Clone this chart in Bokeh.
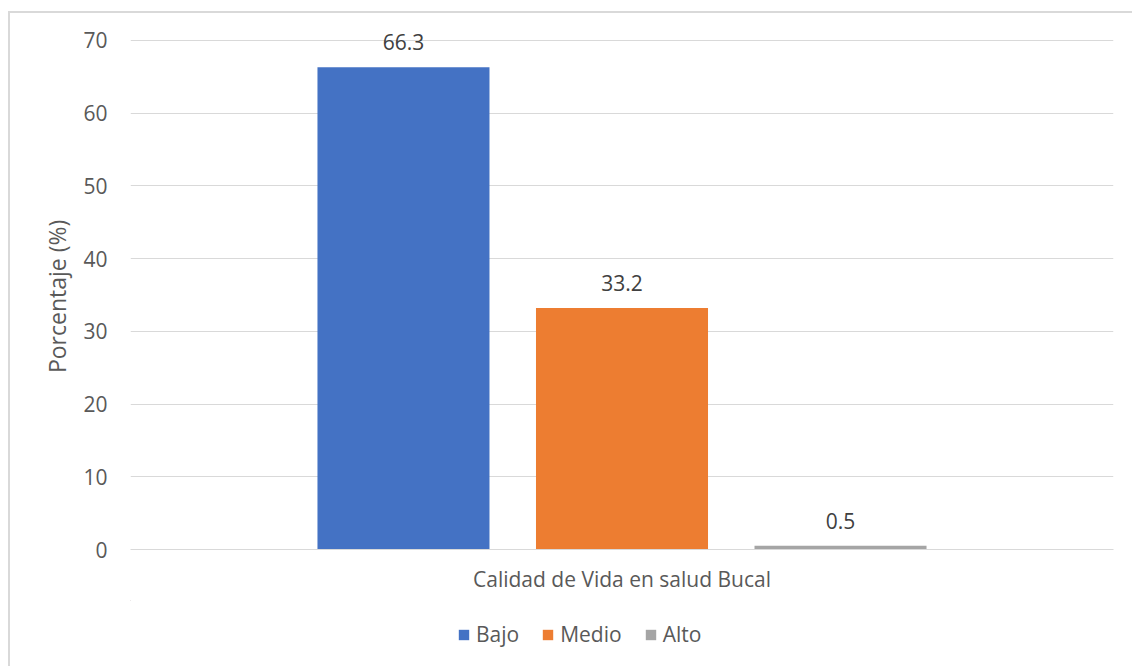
from bokeh.plotting import figure
from bokeh.layouts import column
from bokeh.models import (FactorRange, Range1d, ColumnDataSource, Legend, LegendItem,
                          FixedTicker)
from bokeh.transform import dodge
from bokeh.core.properties import value
from bokeh.embed import file_html
from bokeh.resources import INLINE

# Data
category = "Calidad de Vida en salud Bucal"
series = ["Bajo", "Medio", "Alto"]
percentages = [66.3, 33.2, 0.5]
colors = ["#4472C4", "#ED7D31", "#A5A5A5"]
y_ticks = [0, 10, 20, 30, 40, 50, 60, 70]

FONT = "Open Sans"
TEXT_COLOR = "#595959"
GRID_COLOR = "#D9D9D9"
NBSP = "\u00a0"

# ---- main bar chart ----
p = figure(
    width=1122, height=587,
    x_range=FactorRange(factors=[category], range_padding=0),
    y_range=Range1d(0, 73.7),
    output_backend="svg", toolbar_location=None,
    min_border_left=120, min_border_right=19,
    min_border_top=0, min_border_bottom=51,
)
p.outline_line_color = None
p.background_fill_color = "white"
p.border_fill_color = "white"

p.yaxis.ticker = FixedTicker(ticks=y_ticks)
p.yaxis.axis_line_color = None
p.yaxis.major_tick_line_color = None
p.yaxis.minor_tick_line_color = None
p.yaxis.major_tick_out = 0
p.yaxis.major_label_standoff = 23
p.yaxis.major_label_text_font = FONT
p.yaxis.major_label_text_font_size = "21px"
p.yaxis.major_label_text_color = TEXT_COLOR
# trailing non-breaking spaces centre the title on the 0-70 span
p.yaxis.axis_label = "Porcentaje (%)" + NBSP * 5
p.yaxis.axis_label_text_font = FONT
p.yaxis.axis_label_text_font_size = "23px"
p.yaxis.axis_label_text_font_style = "normal"
p.yaxis.axis_label_text_color = TEXT_COLOR
p.yaxis.axis_label_standoff = 7

p.xaxis.axis_line_color = GRID_COLOR
p.xaxis.major_tick_line_color = None
p.xaxis.minor_tick_line_color = None
p.xaxis.major_tick_out = 0
p.xaxis.major_label_standoff = 15
p.xaxis.major_label_text_font = FONT
p.xaxis.major_label_text_font_size = "21px"
p.xaxis.major_label_text_color = TEXT_COLOR

p.xgrid.grid_line_color = None
p.ygrid.grid_line_color = GRID_COLOR
p.ygrid.grid_line_width = 1

offsets = [-0.2223, 0.0, 0.2223]
bar_width = 0.175

for name, val, col, off in zip(series, percentages, colors, offsets):
    src = ColumnDataSource(dict(x=[category], y=[val], label=[f"{val:.1f}"]))
    p.vbar(x=dodge("x", off, range=p.x_range), top="y", width=bar_width,
           source=src, fill_color=col, line_color=None)
    p.text(x=dodge("x", off, range=p.x_range), y="y", text="label", source=src,
           text_align="center", text_baseline="middle", y_offset=-25,
           text_font=value(FONT), text_font_size="21px", text_color="#404040")

# ---- legend strip under the chart ----
# the series are repeated here well outside the visible ranges, only for their legend keys
lp = figure(
    width=1122, height=66,
    x_range=FactorRange(factors=[category], range_padding=0), y_range=Range1d(-200, -199),
    output_backend="svg", toolbar_location=None,
    x_axis_location=None, y_axis_location=None,
    min_border_left=0, min_border_right=0, min_border_top=0, min_border_bottom=0,
)
lp.outline_line_color = None
lp.grid.grid_line_color = None
lp.border_fill_color = "white"

items = []
for name, val, col in zip(series, percentages, colors):
    src = ColumnDataSource(dict(x=[category], y=[val]))
    r = lp.vbar(x=dodge("x", -3.0, range=lp.x_range), top="y", width=bar_width,
                source=src, fill_color=col, line_color=None)
    items.append(LegendItem(label=name, renderers=[r]))

legend = Legend(items=items, orientation="horizontal", location=(327, 18),
                glyph_width=13, glyph_height=13, spacing=22, padding=0, margin=0,
                label_text_font=FONT, label_text_font_size="21px",
                label_text_color=TEXT_COLOR, label_standoff=6,
                border_line_color=None, background_fill_alpha=0)
lp.add_layout(legend, "center")

# chart area with a light frame on its left and top edges
layout = column(p, lp, spacing=0,
                styles={"margin-left": "8px", "margin-top": "11px",
                        "border-left": "2px solid #D9D9D9",
                        "border-top": "2px solid #D9D9D9"})

open("out.html", "w").write(file_html(layout, INLINE))
